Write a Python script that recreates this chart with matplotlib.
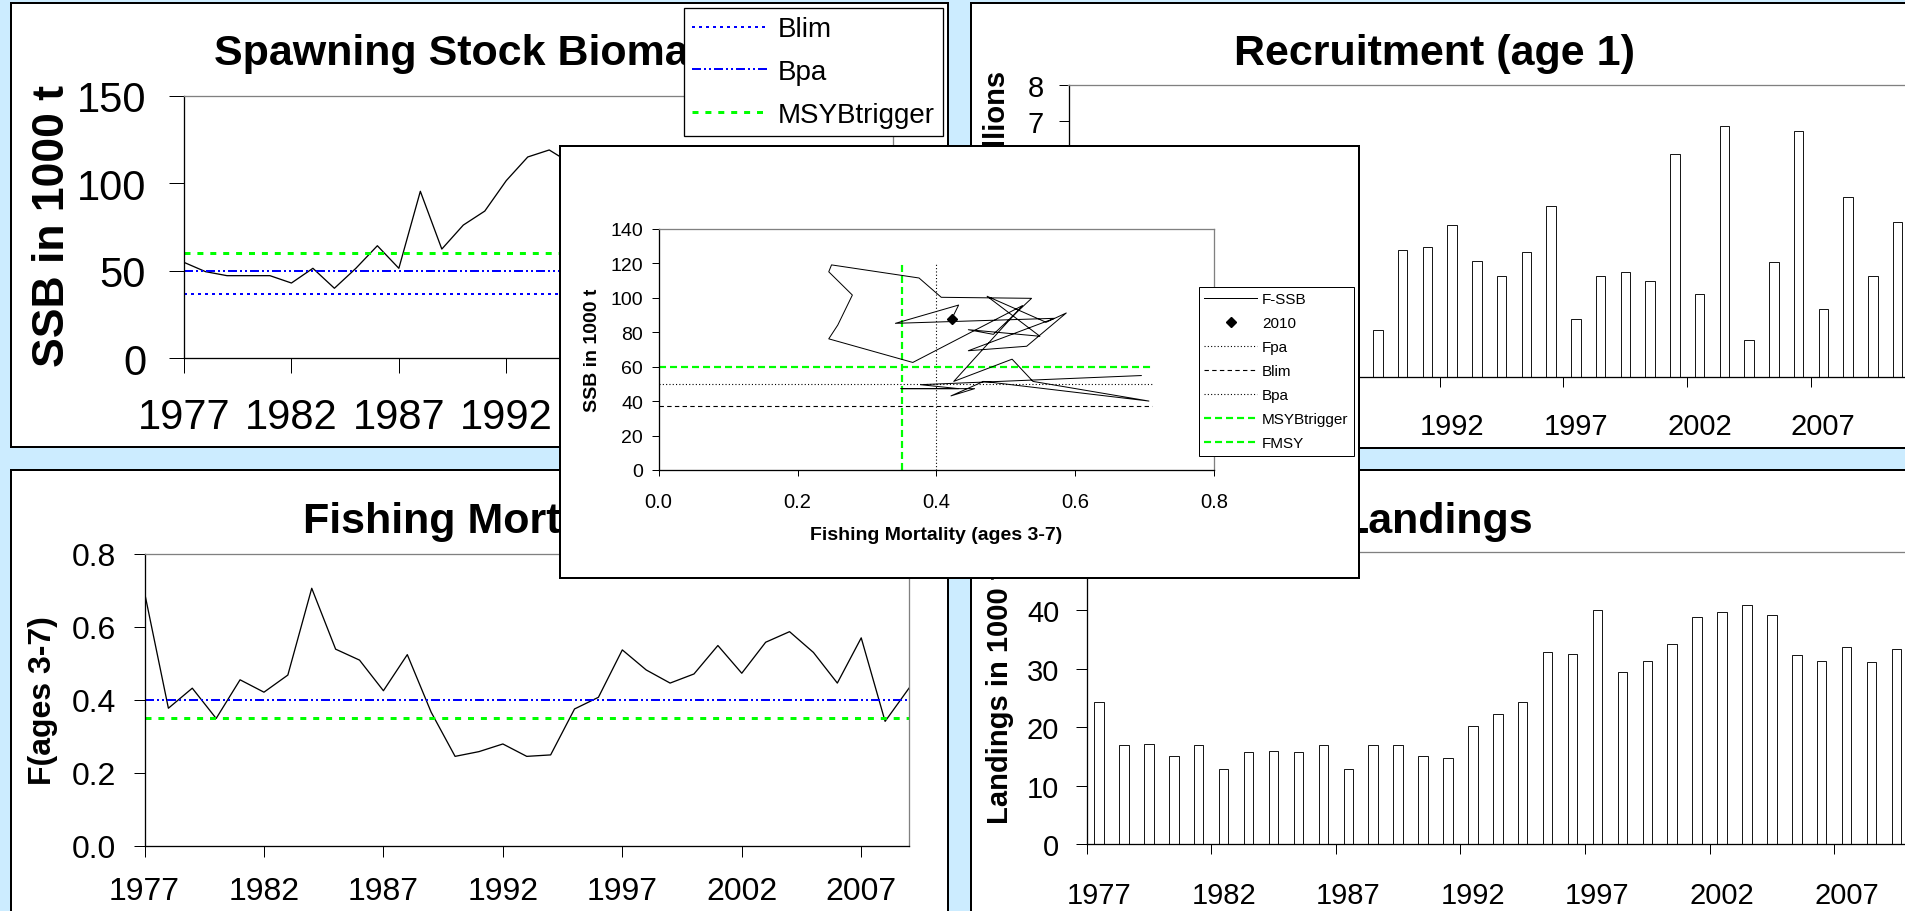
import numpy as np
import matplotlib
matplotlib.use('Agg')
import matplotlib.pyplot as plt
from matplotlib.lines import Line2D
from matplotlib.ticker import NullFormatter, FormatStrFormatter

plt.rcParams['font.family'] = ['Liberation Sans', 'DejaVu Sans']

# ---------------- data ----------------
years_ssb = list(range(1977, 2011))
ssb = [54.8, 49.5, 47.2, 47.2, 47.2, 43.0, 51.4, 40.0, 51.4, 64.3, 51.4, 95.4,
       62.4, 76.1, 84.1, 101.5, 115.0, 119.0, 111.4, 100.2, 99.6, 78.7, 81.4,
       80.5, 77.6, 100.8, 85.7, 91.1, 71.8, 69.2, 88.0, 85.1, 95.7, 87.6]

years_f = list(range(1977, 2010))
fbar = [0.695, 0.377, 0.432, 0.349, 0.455, 0.421, 0.468, 0.706, 0.539, 0.509,
        0.425, 0.524, 0.366, 0.245, 0.258, 0.279, 0.245, 0.249, 0.375, 0.407,
        0.537, 0.482, 0.446, 0.471, 0.549, 0.473, 0.558, 0.587, 0.530, 0.446,
        0.570, 0.341, 0.432]
f_2010 = 0.422

years_rec = list(range(1977, 2011))
recruits = [2.9, 3.6, 2.4, 3.0, 2.2, 1.9, 3.3, 2.6, 2.1, 4.0, 2.7, 3.8,
            1.28, 3.48, 3.55, 4.15, 3.17, 2.77, 3.41, 4.67, 1.58, 2.77, 2.88,
            2.62, 6.10, 2.28, 6.88, 1.01, 3.14, 6.73, 1.87, 4.94, 2.77, 4.24]

years_land = list(range(1977, 2010))
landings = [24.3, 16.9, 17.1, 15.0, 16.9, 12.9, 15.7, 15.9, 15.7, 16.9, 12.8,
            16.9, 16.9, 15.0, 14.7, 20.2, 22.2, 24.3, 32.8, 32.5, 40.0, 29.5,
            31.3, 34.2, 38.8, 39.7, 40.9, 39.1, 32.3, 31.3, 33.7, 31.2, 33.4]

blim, bpa, msy_btrigger = 37, 50, 60
fpa, fmsy = 0.4, 0.35
ref_f_span = [0.0, 0.71]
ref_ssb_span = [0.0, 120.0]

tick_years = [1977, 1982, 1987, 1992, 1997, 2002, 2007, 2012]

# ---------------- layout helpers ----------------
W, H = 1905, 912
PT = 0.72  # points per pixel at 100 dpi
BG = '#CCECFF'
GRAY = '#808080'
BLUE = '#0000FF'
GREEN = '#00FF00'

fig = plt.figure(figsize=(W / 100, H / 100), dpi=100, facecolor=BG)


def box(x0, y0, x1, y1):
    return [x0 / W, 1 - y1 / H, (x1 - x0) / W, (y1 - y0) / H]


def ftext(ax, x, y, s, **kw):
    return ax.text(x / W, 1 - y / H, s, transform=fig.transFigure, **kw)


def frame(x0, y0, x1, y1, z):
    ax = fig.add_axes(box(x0, y0, x1, y1), zorder=z)
    ax.set_xticks([])
    ax.set_yticks([])
    ax.set_facecolor('white')
    for s in ax.spines.values():
        s.set_linewidth(2 * PT)
        s.set_color('black')
    return ax


def plot_axes(x0, y0, x1, y1, z):
    ax = fig.add_axes(box(x0, y0, x1, y1), zorder=z)
    ax.set_facecolor('none')
    ax.spines['left'].set_color('black')
    ax.spines['bottom'].set_color('black')
    ax.spines['top'].set_color(GRAY)
    ax.spines['right'].set_color(GRAY)
    for s in ax.spines.values():
        s.set_linewidth(1.3 * PT)
    return ax


blim_style = dict(color=BLUE, lw=2 * PT, ls=(0, (1.5, 2.0)))
bpa_style = dict(color=BLUE, lw=2 * PT, ls=(0, (4.5, 1.5, 1, 1.5, 1, 1.5)))
msy_style = dict(color=GREEN, lw=3 * PT, ls=(0, (2.0, 2.3)))

# ---------------- panel frames ----------------
fr_tl = frame(11, 4, 948, 448, 0)
fr_tr = frame(971, 4, 1915, 449, 0)
fr_bl = frame(11, 471, 948, 925, 0)
fr_br = frame(971, 471, 1915, 925, 0)

TITLE = dict(fontsize=31, fontweight='bold', va='baseline')
ftext(fr_tl, 214, 65, 'Spawning Stock Biomass', ha='left', **TITLE)
ftext(fr_tr, 1234, 65, 'Recruitment (age 1)', ha='left', **TITLE)
ftext(fr_bl, 303, 533, 'Fishing Mortality', ha='left', **TITLE)
ftext(fr_br, 1533, 533, 'Landings', ha='right', **TITLE)

# ---------------- SSB ----------------
ax_ssb = plot_axes(184, 96.7, 893, 359.3, 1)
ax_ssb.plot(years_ssb, ssb, color='black', lw=1.3 * PT)
ax_ssb.plot([years_ssb[0], years_ssb[-1]], [blim, blim], **blim_style)
ax_ssb.plot([years_ssb[0], years_ssb[-1]], [bpa, bpa], **bpa_style)
ax_ssb.plot([years_ssb[0], years_ssb[-1]], [msy_btrigger, msy_btrigger], **msy_style)
ax_ssb.set_xlim(1977, 2010)
ax_ssb.set_ylim(0, 150)
ax_ssb.set_yticks([0, 50, 100, 150])
ssb_ticks = tick_years[:-1]
ax_ssb.set_xticks(ssb_ticks)
# labels after 1992 lie under the inset chart
ax_ssb.set_xticklabels([str(y) if y <= 1992 else '' for y in ssb_ticks])
ax_ssb.tick_params(axis='x', direction='out', length=15 * PT, width=1 * PT,
                   pad=17.3, labelsize=30)
ax_ssb.tick_params(axis='y', direction='out', length=15 * PT, width=1 * PT,
                   pad=16.5, labelsize=30)
ftext(ax_ssb, 64, 226, 'SSB in 1000 t', rotation=90, rotation_mode='anchor',
      ha='center', va='baseline', fontsize=32, fontweight='bold')
leg1 = ax_ssb.legend(
    [Line2D([], [], **blim_style), Line2D([], [], **bpa_style), Line2D([], [], **msy_style)],
    ['Blim', 'Bpa', 'MSYBtrigger'],
    loc='upper left', bbox_to_anchor=(684 / W, 1 - 9 / H), bbox_transform=fig.transFigure,
    borderaxespad=0, fontsize=20, handlelength=2.7, handletextpad=0.36,
    labelspacing=0.6, borderpad=0.3, frameon=True, fancybox=False,
    edgecolor='black', framealpha=1)
leg1.get_frame().set_linewidth(1.3 * PT)

# ---------------- Fishing mortality ----------------
ax_f = plot_axes(144.5, 555, 909, 846.7, 1)
ax_f.plot(years_f, fbar, color='black', lw=1.3 * PT)
ax_f.plot([years_f[0], years_f[-1]], [fpa, fpa], **bpa_style)
ax_f.plot([years_f[0], years_f[-1]], [fmsy, fmsy], **msy_style)
ax_f.set_xlim(1977, 2009)
ax_f.set_ylim(0, 0.8)
ax_f.set_yticks([0.0, 0.2, 0.4, 0.6, 0.8])
ax_f.yaxis.set_major_formatter(FormatStrFormatter('%.1f'))
ax_f.set_xticks(tick_years[:-1])
ax_f.tick_params(axis='x', direction='out', length=10.7 * PT, width=1 * PT,
                 pad=14, labelsize=23)
ax_f.tick_params(axis='y', direction='out', length=11 * PT, width=1 * PT,
                 pad=12.6, labelsize=23)
ftext(ax_f, 51, 701, 'F(ages 3-7)', rotation=90, rotation_mode='anchor',
      ha='center', va='baseline', fontsize=23, fontweight='bold')


# ---------------- bar charts ----------------
def bar_axes(ax, years, values, ymax, yticks, ylabels, xlabels, pad_minor, ylen, ypad):
    ax.bar(years, values, width=0.38, color='white', edgecolor='black', linewidth=0.9 * PT)
    ax.set_ylim(0, ymax)
    ax.set_yticks(yticks)
    ax.set_yticklabels(ylabels)
    ax.spines['right'].set_visible(False)
    ax.set_xticks(np.arange(1976.5, 2015, 5))
    ax.xaxis.set_major_formatter(NullFormatter())
    ax.set_xticks(tick_years, minor=True)
    ax.set_xticklabels(xlabels, minor=True)
    ax.tick_params(axis='x', which='major', direction='out', length=10 * PT, width=1 * PT)
    ax.tick_params(axis='x', which='minor', length=0, pad=pad_minor, labelsize=21)
    ax.tick_params(axis='y', direction='out', length=ylen * PT, width=1 * PT,
                   pad=ypad, labelsize=21)


ax_rec = plot_axes(1068.5, 85.7, 1905, 378, 1)
rec_ticks = list(range(0, 9))
# only the labels that are not covered by the inset chart
bar_axes(ax_rec, years_rec, recruits, 8, rec_ticks,
         [str(v) if v >= 7 else '' for v in rec_ticks],
         [str(y) if y >= 1992 else '' for y in tick_years], 25.4, 10, 10.4)
ax_rec.set_xlim(1976.5, 1976.5 + (1905 - 1068.5) / 24.75)
ftext(ax_rec, 1005, 232, 'Recruitment in millions', rotation=90, rotation_mode='anchor',
      ha='center', va='baseline', fontsize=21, fontweight='bold')

ax_land = plot_axes(1086.6, 552.7, 1905, 845, 1)
land_ticks = [0, 10, 20, 30, 40, 50]
bar_axes(ax_land, years_land, landings, 50, land_ticks,
         [str(v) if v <= 40 else '' for v in land_ticks],
         [str(y) for y in tick_years], 26.6, 11, 11.7)
ax_land.set_xlim(1976.5, 1976.5 + (1905 - 1086.6) / 24.92)
ftext(ax_land, 1008, 697, 'Landings in 1000 t', rotation=90, rotation_mode='anchor',
      ha='center', va='baseline', fontsize=21, fontweight='bold')

# ---------------- inset F-SSB ----------------
fr_in = frame(560, 147, 1359, 579, 3)
ax_in = plot_axes(658.6, 229.7, 1214.2, 471, 4)

green_dash = dict(color=GREEN, lw=2.2 * PT, ls=(0, (3.2, 1.8)))
black_dot = dict(color='black', lw=1.1 * PT, ls=(0, (1, 2)))
black_dash = dict(color='black', lw=1.1 * PT, ls=(0, (4, 3)))

ax_in.plot([fpa, fpa], ref_ssb_span, **black_dot)
ax_in.plot(ref_f_span, [blim, blim], **black_dash)
ax_in.plot(ref_f_span, [bpa, bpa], **black_dot)
ax_in.plot(ref_f_span, [msy_btrigger, msy_btrigger], **green_dash)
ax_in.plot([fmsy, fmsy], ref_ssb_span, **green_dash)
ax_in.plot(fbar + [f_2010], ssb, color='black', lw=1.0 * PT)
ax_in.plot([f_2010], [ssb[-1]], ls='none', marker='D', color='black', ms=5)

ax_in.set_xlim(0, 0.8)
ax_in.set_ylim(0, 140)
ax_in.set_xticks([0.0, 0.2, 0.4, 0.6, 0.8])
ax_in.xaxis.set_major_formatter(FormatStrFormatter('%.1f'))
ax_in.set_yticks(list(range(0, 141, 20)))
ax_in.tick_params(axis='x', direction='out', length=5.7 * PT, width=1 * PT,
                  pad=11.7, labelsize=14.5)
ax_in.tick_params(axis='y', direction='out', length=6.6 * PT, width=1 * PT,
                  pad=6.5, labelsize=14)
ftext(ax_in, 936, 540, 'Fishing Mortality (ages 3-7)', ha='center', va='baseline',
      fontsize=14, fontweight='bold')
ftext(ax_in, 597, 350, 'SSB in 1000 t', rotation=90, rotation_mode='anchor',
      ha='center', va='baseline', fontsize=14, fontweight='bold')

h_in = [Line2D([], [], color='black', lw=1.0 * PT),
        Line2D([], [], ls='none', marker='D', color='black', ms=5),
        Line2D([], [], **black_dot),
        Line2D([], [], **black_dash),
        Line2D([], [], **black_dot),
        Line2D([], [], **green_dash),
        Line2D([], [], **green_dash)]
leg2 = ax_in.legend(h_in, ['F-SSB', '2010', 'Fpa', 'Blim', 'Bpa', 'MSYBtrigger', 'FMSY'],
                    loc='upper left', bbox_to_anchor=(1198.5 / W, 1 - 288 / H),
                    bbox_transform=fig.transFigure, borderaxespad=0, fontsize=11,
                    handlelength=3.47, handletextpad=0.33, labelspacing=0.65,
                    borderpad=0.36, frameon=True, fancybox=False,
                    edgecolor='black', framealpha=1)
leg2.get_frame().set_linewidth(1.0 * PT)

fig.savefig('out.png', dpi=100, facecolor=BG)
